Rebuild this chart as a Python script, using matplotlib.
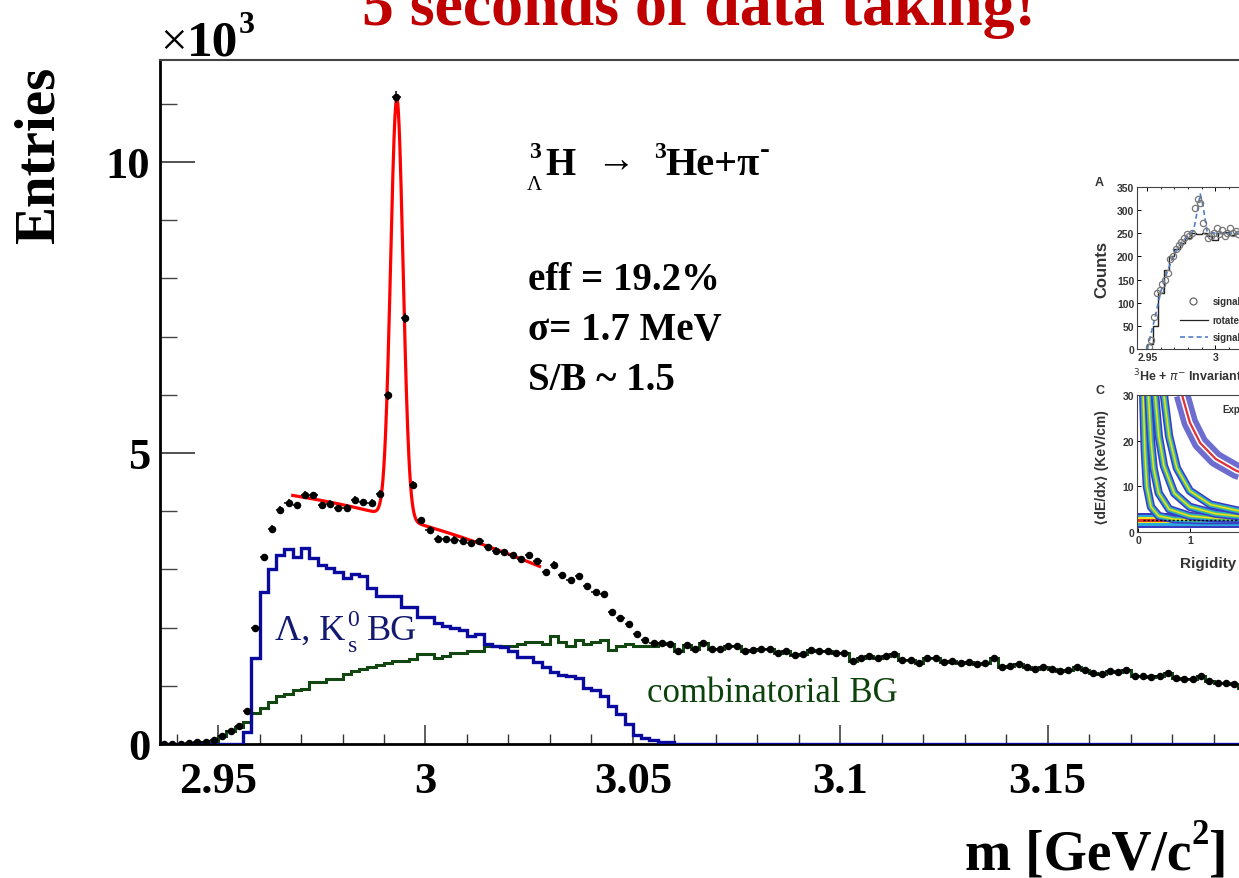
import numpy as np
import matplotlib
matplotlib.use("Agg")
import matplotlib.pyplot as plt
from matplotlib.ticker import FixedLocator, MultipleLocator

# invariant mass spectrum, 2 MeV bins starting at 2.936 GeV, entries in units of 10^3
entries = [0.00, 0.00, 0.00, 0.01, 0.03, 0.04, 0.07, 0.14, 0.23, 0.31,
           0.57, 1.99, 3.21, 3.70, 4.02, 4.14, 4.10, 4.28, 4.27, 4.10,
           4.12, 4.05, 4.06, 4.20, 4.15, 4.14, 4.30, 5.99, 11.11, 7.31,
           4.45, 3.84, 3.68, 3.53, 3.52, 3.51, 3.49, 3.45, 3.48, 3.38,
           3.32, 3.30, 3.24, 3.18, 3.24, 3.14, 2.95, 3.08, 2.90, 2.81,
           2.88, 2.71, 2.61, 2.58, 2.27, 2.16, 2.06, 1.89, 1.79, 1.73,
           1.74, 1.71, 1.60, 1.70, 1.64, 1.73, 1.64, 1.64, 1.68, 1.68,
           1.60, 1.62, 1.63, 1.63, 1.57, 1.59, 1.53, 1.55, 1.62, 1.59,
           1.59, 1.57, 1.57, 1.42, 1.47, 1.51, 1.48, 1.52, 1.55, 1.45,
           1.45, 1.39, 1.47, 1.47, 1.41, 1.43, 1.40, 1.41, 1.37, 1.39,
           1.47, 1.33, 1.34, 1.37, 1.33, 1.29, 1.33, 1.29, 1.26, 1.27,
           1.33, 1.27, 1.22, 1.20, 1.26, 1.24, 1.27, 1.17, 1.16, 1.15,
           1.17, 1.22, 1.13, 1.11, 1.12, 1.17, 1.08, 1.04, 1.04, 1.03,
           0.97, 0.96]

# Lambda / K0s misidentification background (zero above bin 61)
lam_k0s_bg = [0.00, 0.00, 0.00, 0.00, 0.00, 0.00, 0.00, 0.00, 0.00, 0.00,
              0.21, 1.48, 2.61, 3.01, 3.24, 3.35, 3.22, 3.37, 3.19, 3.08,
              3.02, 2.95, 2.86, 2.92, 2.89, 2.68, 2.55, 2.54, 2.54, 2.35,
              2.35, 2.19, 2.18, 2.07, 2.03, 1.99, 1.96, 1.85, 1.89, 1.72,
              1.69, 1.66, 1.60, 1.49, 1.50, 1.41, 1.33, 1.24, 1.19, 1.17,
              1.13, 0.97, 0.93, 0.83, 0.66, 0.52, 0.34, 0.15, 0.11, 0.07,
              0.04, 0.03]

# combinatorial background below bin 60; above it the spectrum is pure combinatorics
comb_bg_low = [0.00, 0.00, 0.00, 0.00, 0.01, 0.03, 0.06, 0.14, 0.23, 0.30,
               0.38, 0.54, 0.61, 0.72, 0.82, 0.86, 0.92, 0.95, 1.06, 1.06,
               1.12, 1.12, 1.20, 1.26, 1.29, 1.33, 1.36, 1.39, 1.43, 1.43,
               1.46, 1.55, 1.55, 1.48, 1.52, 1.56, 1.56, 1.60, 1.60, 1.69,
               1.69, 1.68, 1.69, 1.72, 1.75, 1.75, 1.72, 1.86, 1.75, 1.69,
               1.78, 1.72, 1.75, 1.78, 1.62, 1.69, 1.72, 1.69, 1.69, 1.69]

# gauss + pol2 fit (pol2 expanded around 2.968 GeV)
fit_gaus = (7.2, 2.9931, 0.0015)
fit_pol2 = (4.27, -11.47, -151.5)
fit_range = (2.968, 3.0275)

x_major = [2.95, 3.0, 3.05, 3.1, 3.15]
x_tick_labels = ["2.95", "3", "3.05", "3.1", "3.15"]
y_major = [0, 5, 10]
y_tick_labels = ["0", "5", "10"]

# small published spectrum (panel A)
a_mass = [2.951, 2.953, 2.955, 2.957, 2.959, 2.961, 2.963, 2.965, 2.967, 2.969,
          2.971, 2.973, 2.975, 2.977, 2.979, 2.981, 2.983, 2.985, 2.987, 2.989,
          2.991, 2.993, 2.995, 2.997, 2.999, 3.001, 3.003, 3.005, 3.007, 3.009,
          3.011, 3.013, 3.015, 3.017]
a_counts = [5, 20, 70, 120, 128, 140, 150, 165, 195, 200,
            215, 225, 232, 240, 248, 245, 250, 305, 325, 315,
            272, 255, 240, 245, 250, 262, 248, 258, 245, 250,
            262, 250, 255, 248]
a_rot_edges = [2.950, 2.954, 2.958, 2.962, 2.966, 2.970, 2.974, 2.978, 2.982,
               2.986, 2.990, 2.994, 2.998, 3.002, 3.006, 3.010, 3.014, 3.018]
a_rot = [10, 50, 120, 170, 200, 215, 230, 240, 250, 248, 250, 245, 235, 250, 252, 246, 250]
a_fit_m = [2.950, 2.955, 2.960, 2.965, 2.970, 2.975, 2.980, 2.984, 2.987, 2.989,
           2.991, 2.994, 3.000, 3.010, 3.020]
a_fit_c = [0, 60, 125, 170, 205, 230, 245, 255, 300, 335, 310, 255, 250, 250, 250]

# dE/dx bands (panel C): rigidity [GV] vs <dE/dx> [keV/cm]
c_bands = [
    ([0.10, 0.13, 0.17, 0.25, 0.40, 0.70, 1.20, 2.80], [30, 18, 10, 5.5, 3.5, 2.8, 2.6, 2.6]),
    ([0.20, 0.25, 0.30, 0.40, 0.60, 1.00, 1.50, 2.80], [30, 20, 14, 8.5, 5.0, 3.5, 3.0, 2.7]),
    ([0.33, 0.40, 0.50, 0.70, 1.00, 1.50, 2.00, 2.80], [30, 21, 14.5, 8.5, 5.5, 4.0, 3.4, 3.0]),
    ([0.50, 0.60, 0.75, 1.00, 1.40, 2.00, 2.80], [30, 21, 14, 9.0, 6.0, 4.5, 3.6]),
]
c_he3_p = [0.85, 1.00, 1.20, 1.50, 1.90, 2.40, 2.80]
c_he3_dedx = [30, 24, 19.5, 16, 13.4, 11.5, 10.5]

W, H = 1239, 879
SERIF = ["Liberation Serif", "DejaVu Serif"]
SANS = ["Liberation Sans", "DejaVu Sans"]


def at(x, y):
    return x / W, 1 - y / H


fig = plt.figure(figsize=(W / 100, H / 100), dpi=100)
renderer = fig.canvas.get_renderer()


def chain(x, y, parts, **kw):
    # place text pieces one after the other, each with its own size / offset
    for s, size, dy in parts:
        t = fig.text(*at(x, y + dy), s, fontsize=size, ha="left", va="baseline", **kw)
        x = t.get_window_extent(renderer).x1
    return x


ax = fig.add_axes([160 / W, (H - 745) / H, 1095 / W, 684 / H])

edges = np.round(2.936 + 0.002 * np.arange(len(entries) + 1), 3)
centers = edges[:-1] + 0.001
lam = lam_k0s_bg + [0.0] * (len(entries) - len(lam_k0s_bg))
comb = comb_bg_low + entries[len(comb_bg_low):]

ax.stairs(comb, edges, color="#124712", lw=2.2, zorder=2)
ax.stairs(lam, edges, color="#0a0a9e", lw=2.4, zorder=2.6)

xf = np.linspace(fit_range[0], fit_range[1], 600)
amp, mu, sig = fit_gaus
u = xf - fit_range[0]
yf = amp * np.exp(-0.5 * ((xf - mu) / sig) ** 2) + fit_pol2[0] + fit_pol2[1] * u + fit_pol2[2] * u ** 2
ax.plot(xf, yf, color="#ff0000", lw=2.3, zorder=3)

yerr = np.sqrt(np.array(entries) * 1000) / 1000
ax.errorbar(centers, entries, xerr=0.001, yerr=yerr, fmt="o", ms=4.4, color="black",
            elinewidth=1.1, capsize=0, zorder=4)

ax.set_xlim(2.936, 3.2)
ax.set_ylim(0, 11.75)
ax.xaxis.set_major_locator(FixedLocator(x_major))
ax.xaxis.set_minor_locator(FixedLocator(np.round(np.arange(2.94, 3.195, 0.01), 2)))
ax.set_xticklabels(x_tick_labels)
ax.yaxis.set_major_locator(FixedLocator(y_major))
ax.yaxis.set_minor_locator(MultipleLocator(1))
ax.set_yticklabels(y_tick_labels)
ax.tick_params(axis="x", which="major", direction="in", length=14, width=1.1, color="#333333", pad=12)
ax.tick_params(axis="x", which="minor", direction="in", length=7, width=1.0, color="#333333")
ax.tick_params(axis="y", which="major", direction="in", length=25, width=1.1, color="#222222", pad=7)
ax.tick_params(axis="y", which="minor", direction="in", length=12, width=1.0, color="#444444")
for lab in ax.get_xticklabels() + ax.get_yticklabels():
    lab.set_fontfamily(SERIF)
    lab.set_fontweight("bold")
    lab.set_fontsize(32)
ax.spines["right"].set_visible(False)
ax.spines["left"].set_linewidth(2)
ax.spines["bottom"].set_linewidth(2)
ax.spines["top"].set_linewidth(1.5)
ax.spines["top"].set_color("#444444")

# headline, cut by the page edge
fig.text(*at(362, 25), "5 seconds of data taking!", fontsize=46, fontweight="bold",
         color="#c00000", family=SERIF, va="baseline")

chain(160, 55, [("\u00d7", 34, 0)], family=SERIF)
chain(187, 55, [("10", 37, 0), ("3", 23, -22)], family=SERIF, fontweight="bold")

fig.text(*at(40, 155), "Entries", rotation=90, fontsize=41, fontweight="bold",
         family=SERIF, ha="center", va="center")
chain(965, 870, [("m [GeV/c", 40, 0), ("2", 25, -26), ("]", 40, 0)],
      family=SERIF, fontweight="bold")

# decay channel
chain(529, 158, [("3", 17, 0)], family=SERIF, fontweight="bold")
chain(527, 190, [("\u039b", 15, 0)], family=SERIF)
chain(545, 175, [("H", 28, 0)], family=SERIF, fontweight="bold")
chain(596, 172, [("\u2192", 28, 0)], family=SERIF)
chain(654, 158, [("3", 17, 0)], family=SERIF, fontweight="bold")
x = chain(665, 175, [("He+\u03c0", 29, 0)], family=SERIF, fontweight="bold")
chain(x + 1, 158, [("-", 21, 0)], family=SERIF, fontweight="bold")

for txt, yb in [("eff = 19.2%", 290), ("\u03c3= 1.7 MeV", 340), ("S/B ~ 1.5", 390)]:
    fig.text(*at(528, yb), txt, fontsize=28, fontweight="bold", family=SERIF, va="baseline")

x = chain(275, 640, [("\u039b, K", 26, 0)], family=SERIF, color="#13196e")
chain(x + 2, 626, [("0", 17, 0)], family=SERIF, color="#13196e")
x2 = chain(x + 3, 652, [("s", 17, 0)], family=SERIF, color="#13196e")
chain(x2 + 9, 640, [("BG", 26, 0)], family=SERIF, color="#13196e")
fig.text(*at(647, 702), "combinatorial BG", fontsize=25, family=SERIF,
         color="#0d420d", va="baseline")

# panel A of the published figure
axA = fig.add_axes([1137 / W, (H - 350) / H, 146 / W, 162 / H])
axA.stairs(a_rot, a_rot_edges, color="#222222", lw=1.0)
axA.plot(a_fit_m, a_fit_c, ls=(0, (3, 2)), color="#4f7fc8", lw=1.2)
axA.plot(a_mass, a_counts, "o", mfc="none", mec="#777777", ms=4.5, mew=0.9)
axA.set_xlim(2.9424, 3.05)
axA.set_ylim(0, 350)
axA.set_xticks([2.95, 3.0])
axA.set_xticklabels(["2.95", "3"])
axA.set_yticks(range(0, 351, 50))
axA.xaxis.set_minor_locator(MultipleLocator(0.01))
axA.tick_params(direction="in", top=True, labelsize=7.5, length=3, width=0.7, pad=2,
                labelcolor="#333333")
axA.tick_params(which="minor", direction="in", top=True, length=1.5, width=0.6)
for lab in axA.get_xticklabels() + axA.get_yticklabels():
    lab.set_fontweight("bold")
    lab.set_fontfamily(SANS)
for sp in axA.spines.values():
    sp.set_linewidth(0.8)
    sp.set_color("#444444")
axA.plot([2.9836], [104], "o", mfc="none", mec="#666666", ms=5, mew=0.9)
axA.plot([2.974, 2.995], [63, 63], color="#222222", lw=0.9)
axA.plot([2.974, 2.995], [26, 26], ls=(0, (3, 2)), color="#4f7fc8", lw=1.2)
for txt, yy in [("signal", 104), ("rotated", 63), ("signal+", 26)]:
    axA.text(2.998, yy, txt, fontsize=7, fontweight="bold", family=SANS,
             color="#333333", va="center")

fig.text(*at(1095, 186), "A", fontsize=9, fontweight="bold", family=SANS, color="#333333")
fig.text(*at(1102, 270), "Counts", rotation=90, fontsize=12, fontweight="bold",
         family=SANS, ha="center", va="center", color="#333333")
fig.text(*at(1133, 381), "$^{3}$He + $\\pi^{-}$ Invariant Mass", fontsize=9,
         fontweight="bold", family=SANS, color="#333333")

# panel C: dE/dx versus rigidity
axC = fig.add_axes([1137 / W, (H - 533) / H, 146 / W, 137 / H])
axC.fill_between([0, 2.8], 0.8, 4.2, color="#3b3bc0", lw=0)
axC.fill_between([0, 2.8], 1.4, 3.7, color="#29a9dc", lw=0)
axC.fill_between([0, 2.8], 1.9, 3.2, color="#f3e21e", lw=0)
axC.fill_between([0, 2.8], 2.2, 2.9, color="#e3332a", lw=0)
for bp, bd in c_bands:
    axC.plot(bp, bd, color="#3b3bc0", lw=6, solid_capstyle="butt")
    axC.plot(bp, bd, color="#29a9dc", lw=3.8, solid_capstyle="butt")
    axC.plot(bp, bd, color="#62c452", lw=2.2, solid_capstyle="butt")
    axC.plot(bp, bd, color="#f3e21e", lw=1.0, solid_capstyle="butt")
axC.plot(c_he3_p, c_he3_dedx, color="#4848c4", lw=12, alpha=0.8, solid_capstyle="butt")
axC.plot(c_he3_p, c_he3_dedx, color="white", lw=4)
axC.plot(c_he3_p, c_he3_dedx, color="#e0303a", lw=1.6)
axC.plot([0.1, 2.8], [2.55, 2.55], ls=(0, (1.5, 1.5)), color="black", lw=1.0)
axC.set_xlim(-0.02, 2.8)
axC.set_ylim(0, 30)
axC.set_xticks([0, 1, 2])
axC.set_yticks([0, 10, 20, 30])
axC.tick_params(direction="in", labelsize=7.5, length=3, width=0.7, pad=2, labelcolor="#333333")
for lab in axC.get_xticklabels() + axC.get_yticklabels():
    lab.set_fontweight("bold")
    lab.set_fontfamily(SANS)
for sp in axC.spines.values():
    sp.set_linewidth(0.8)
    sp.set_color("#444444")
axC.text(1.62, 27, "Exp", fontsize=7, fontweight="bold", family=SANS, color="#333333",
         va="center")

fig.text(*at(1095, 394), "C", fontsize=9, fontweight="bold", family=SANS, color="#333333")
fig.text(*at(1102, 468), "\u27e8dE/dx\u27e9 (KeV/cm)", rotation=90, fontsize=10,
         fontweight="bold", family=SANS, ha="center", va="center", color="#333333")
fig.text(*at(1180, 568), "Rigidity (GeV)", fontsize=11, fontweight="bold", family=SANS,
         color="#333333")

fig.savefig("out.png", dpi=100)
